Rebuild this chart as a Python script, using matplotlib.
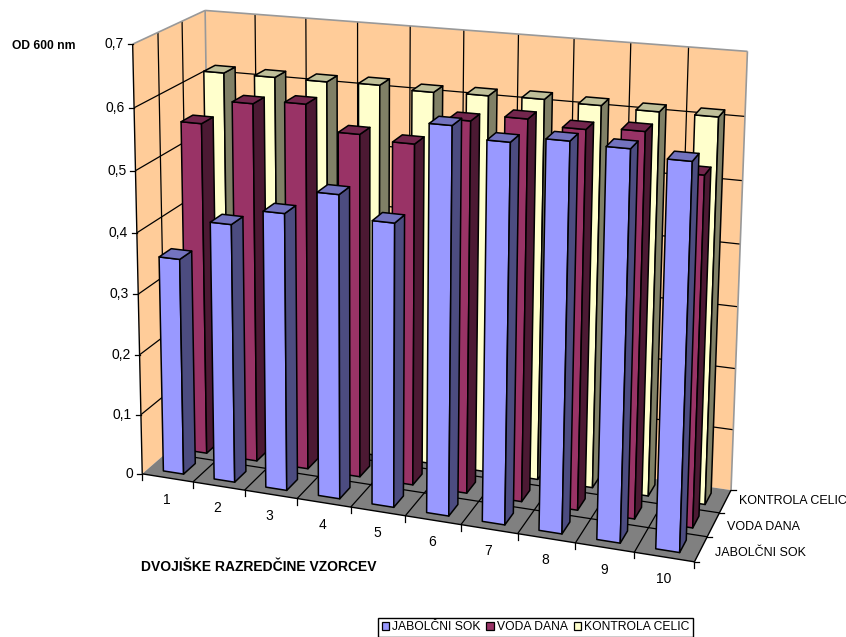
import numpy as np
import matplotlib
matplotlib.use("Agg")
import matplotlib.pyplot as plt
from matplotlib.patches import Polygon, Patch

plt.rcParams['font.family'] = ['Liberation Sans', 'DejaVu Sans']

categories = ['1', '2', '3', '4', '5', '6', '7', '8', '9', '10']
series_names = ['JABOLČNI SOK', 'VODA DANA', 'KONTROLA CELIC']
jabolcni_sok = [0.357, 0.423, 0.45, 0.489, 0.454, 0.612, 0.595, 0.605, 0.602, 0.592]
voda_dana = [0.553, 0.593, 0.60, 0.56, 0.553, 0.597, 0.608, 0.60, 0.605, 0.548]
kontrola_celic = [0.615, 0.615, 0.615, 0.617, 0.613, 0.615, 0.617, 0.615, 0.613, 0.613]
value_ticks = [0, 0.1, 0.2, 0.3, 0.4, 0.5, 0.6, 0.7]
VALUE_MAX = 0.7

WALL = '#FFCC99'
FLOOR = '#808080'
FACE = ['#9999FF', '#993366', '#FFFFCC']
SIDE = ['#4C4C80', '#4C1933', '#808066']
TOP = ['#7373BF', '#73264D', '#BFBF99']

# Camera calibration: box coordinates (across, depth, height) -> figure pixels
box_points = np.array([
    (0, 0, 1), (0, 0, 0), (1, 0, 0), (1, 1, 0), (1, 1, 1), (0, 1, 1), (0, 1, 0),
    (.1, 0, 0), (.2, 0, 0), (.3, 0, 0), (.4, 0, 0), (.8, 0, 0), (.9, 0, 0),
    (1, 1/3, 0), (1, 2/3, 0),
])
pixel_points = np.array([
    (130, 44), (145, 473), (695, 564), (733, 487), (747, 52), (208, 10), (208, 417),
    (193, 481), (245, 489), (297, 498), (351, 507), (575, 543), (634, 554),
    (707, 537), (718, 512),
], dtype=float)


def fit_camera(box, px):
    rows, rhs = [], []
    for (a, b, c), (x, y) in zip(box, px):
        rows.append([a, b, c, 1, 0, 0, 0, 0, -x * a, -x * b, -x * c])
        rows.append([0, 0, 0, 0, a, b, c, 1, -y * a, -y * b, -y * c])
        rhs += [x, y]
    sol = np.linalg.lstsq(np.array(rows, float), np.array(rhs, float), rcond=None)[0]
    return np.append(sol, 1.0).reshape(3, 4)


CAMERA = fit_camera(box_points, pixel_points)


def project(across, depth, height):
    h = CAMERA @ np.array([across, depth, height, 1.0])
    return h[0] / h[2], h[1] / h[2]


fig = plt.figure(figsize=(8.46, 6.37), dpi=100)
ax = fig.add_axes([0, 0, 1, 1])
ax.set_xlim(0, 846)
ax.set_ylim(637, 0)
ax.axis('off')


def quad(corners, fc, ec='none', lw=0.0, z=1):
    ax.add_patch(Polygon([project(*c) for c in corners], closed=True, facecolor=fc,
                         edgecolor=ec, linewidth=lw, zorder=z, joinstyle='round'))


def seg(a, b, color='black', lw=0.9, z=2):
    pa, pb = project(*a), project(*b)
    ax.plot([pa[0], pb[0]], [pa[1], pb[1]], color=color, lw=lw, zorder=z,
            solid_capstyle='butt')


# Walls and floor
quad([(0, 0, 0), (0, 1, 0), (0, 1, 1), (0, 0, 1)], WALL)
quad([(0, 1, 0), (1, 1, 0), (1, 1, 1), (0, 1, 1)], WALL)
quad([(0, 0, 0), (1, 0, 0), (1, 1, 0), (0, 1, 0)], FLOOR)

# Gridlines
n_cat = len(categories)
n_rows = len(series_names)
for tick in value_ticks[1:-1]:
    w = tick / VALUE_MAX
    seg((0, 0, w), (0, 1, w))
    seg((0, 1, w), (1, 1, w))
for i in range(1, n_cat):
    seg((i / n_cat, 1, 0), (i / n_cat, 1, 1))
    seg((i / n_cat, 0, 0), (i / n_cat, 1, 0))
for j in range(1, n_rows):
    seg((0, j / n_rows, 0), (0, j / n_rows, 1))
    seg((0, j / n_rows, 0), (1, j / n_rows, 0))

# Box outline
GREY = '#999999'
seg((0, 0, 1), (0, 1, 1), GREY, 1.2)
seg((0, 1, 1), (1, 1, 1), GREY, 1.2)
seg((1, 1, 1), (1, 1, 0), GREY, 1.2)
seg((0, 1, 0), (0, 1, 1), GREY, 1.2)
seg((0, 0, 0), (0, 0, 1), 'black', 1.0)
seg((0, 0, 0), (1, 0, 0), 'black', 1.0)
seg((1, 0, 0), (1, 1, 0), 'black', 1.0)

# Bars, back row first and left to right within each row
BAR_W = 0.4
BAR_D = 0.5
all_series = [jabolcni_sok, voda_dana, kontrola_celic]
z = 3
for row in reversed(range(n_rows)):
    for i, value in enumerate(all_series[row]):
        u0 = (i + 0.5 - BAR_W / 2) / n_cat
        u1 = (i + 0.5 + BAR_W / 2) / n_cat
        v0 = (row + 0.5 - BAR_D / 2) / n_rows
        v1 = (row + 0.5 + BAR_D / 2) / n_rows
        w = value / VALUE_MAX
        quad([(u0, v0, 0), (u1, v0, 0), (u1, v0, w), (u0, v0, w)], FACE[row], 'black', 1.1, z)
        quad([(u1, v0, 0), (u1, v1, 0), (u1, v1, w), (u1, v0, w)], SIDE[row], 'black', 1.1, z)
        quad([(u0, v0, w), (u1, v0, w), (u1, v1, w), (u0, v1, w)], TOP[row], 'black', 1.1, z)
        z += 1

# Axis ticks and labels
for tick in value_ticks:
    x, y = project(0, 0, tick / VALUE_MAX)
    ax.plot([x - 5, x], [y, y], color='black', lw=0.9, zorder=2)
    ax.text(x - 9, y, f'{tick:g}'.replace('.', ','), ha='right', va='center', fontsize=10)

for i in range(n_cat + 1):
    x, y = project(i / n_cat, 0, 0)
    ax.plot([x, x], [y, y + 6], color='black', lw=0.9, zorder=2)
for i, label in enumerate(categories):
    x, y = project((i + 0.5) / n_cat, 0, 0)
    ax.text(x - 1, y + 22, label, ha='center', va='center', fontsize=10)

for j in range(n_rows + 1):
    x, y = project(1, j / n_rows, 0)
    ax.plot([x, x + 5], [y, y], color='black', lw=0.9, zorder=2)
for j, label in enumerate(series_names):
    x, y = project(1, (j + 0.5) / n_rows, 0)
    ax.text(x + 14, y + 4 - 2 * j, label, ha='left', va='center', fontsize=9)

ax.text(12, 46, 'OD 600 nm', ha='left', va='center', fontsize=8.7, fontweight='bold')
ax.text(141, 567, 'DVOJIŠKE RAZREDČINE VZORCEV', ha='left', va='center',
        fontsize=10, fontweight='bold')

handles = [Patch(facecolor=c, edgecolor='black', linewidth=0.9) for c in FACE]
ax.legend(handles, series_names, ncol=3, loc='lower left',
          bbox_to_anchor=(378 / 846, 0), bbox_transform=fig.transFigure,
          frameon=True, fancybox=False, framealpha=1, edgecolor='black',
          fontsize=8.7, handlelength=0.6, handleheight=0.6, handletextpad=0.25,
          columnspacing=0.5, borderpad=0.3, labelspacing=0, borderaxespad=0)

fig.savefig('out.png', dpi=100)
